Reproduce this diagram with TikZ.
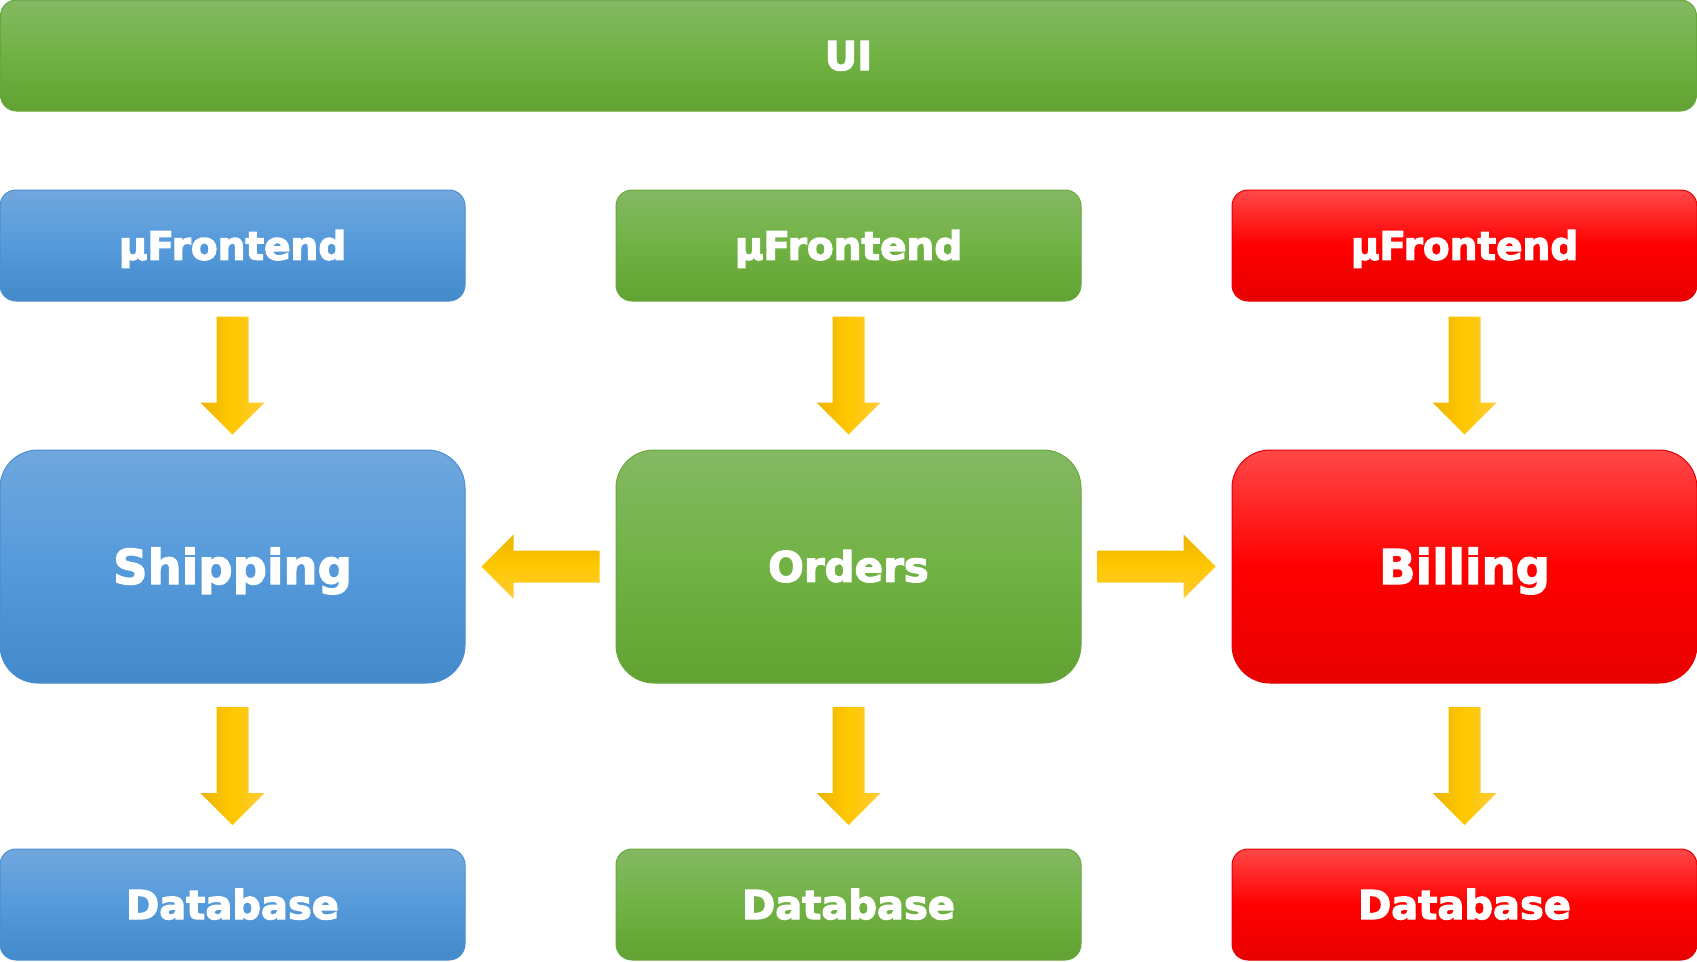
\documentclass[tikz,border=0pt]{standalone}
\usepackage{fontspec}
\setmainfont{DejaVu Sans}
\usetikzlibrary{calc}
\definecolor{gT}{HTML}{84B964}\definecolor{gM}{HTML}{71B244}\definecolor{gB}{HTML}{62A232}\definecolor{gD}{HTML}{68A83C}
\definecolor{bT}{HTML}{70A7DD}\definecolor{bM}{HTML}{559ADB}\definecolor{bB}{HTML}{438ACA}\definecolor{bD}{HTML}{4A8ED2}
\definecolor{rT}{HTML}{FF4848}\definecolor{rM}{HTML}{FF0000}\definecolor{rB}{HTML}{E80000}\definecolor{rD}{HTML}{E40000}
\definecolor{yD}{HTML}{EDB300}\definecolor{yM}{HTML}{FFC800}\definecolor{yL}{HTML}{FFCA38}
\newcommand\heavy[1]{\special{pdf:literal direct 2 Tr 1.2 w 1 1 1 RG}#1\special{pdf:literal direct 0 Tr}}
\newcommand\blockarrow[3]{%
  \coordinate (ba-m) at ($(#2)!0.5!(#3)$);
  \coordinate (ba-s) at ($(ba-m)!59pt!(#2)$);
  \coordinate (ba-e) at ($(ba-m)!59pt!(#3)$);
  \coordinate (ba-h) at ($(ba-e)!32pt!(ba-s)$);
  \path[#1] ($(ba-s)!16pt!90:(ba-e)$) -- ($(ba-h)!16pt!-90:(ba-s)$) -- ($(ba-h)!32pt!-90:(ba-s)$) -- (ba-e) -- ($(ba-h)!32pt!90:(ba-s)$) -- ($(ba-h)!16pt!90:(ba-s)$) -- ($(ba-s)!16pt!-90:(ba-e)$) -- cycle;
}
\tikzset{
  box/.style={rounded corners=16pt, text=white, inner sep=0pt, line width=1pt,
    minimum width=465pt, minimum height=111pt, text depth=0pt},
  small/.style={box, font=\fontsize{39}{44}\bfseries, text height=28.4pt},
  dbf/.style={box, font=\fontsize{40}{44}\bfseries, text height=29.2pt},
  big/.style={box, rounded corners=38pt, minimum height=233pt, font=\fontsize{48}{52}\bfseries, text height=35pt},
  gbox/.style={draw=gD, top color=gT, bottom color=gB, middle color=gM},
  bbox/.style={draw=bD, top color=bT, bottom color=bB, middle color=bM},
  rbox/.style={draw=rD, top color=rT, bottom color=rB, middle color=rM},
  varrow/.style={left color=yD, right color=yL, middle color=yM},
  harrow/.style={top color=yD, bottom color=yL, middle color=yM},
}
\begin{document}
\begin{tikzpicture}[x=1pt,y=-1pt]
\useasboundingbox (0,0) rectangle (1697,961);
\node[box, gbox, minimum width=1696pt, font=\fontsize{40}{44}\bfseries, text height=29.2pt] (ui) at (848.5,55.5) {\heavy{UI}};
\node[small, bbox] (sfe) at (232.5,245.5) {\heavy{µFrontend}};
\node[small, gbox] (ofe) at (848.5,245.5) {\heavy{µFrontend}};
\node[small, rbox] (bfe) at (1464.5,245.5) {\heavy{µFrontend}};
\node[big, bbox] (ship) at (232.5,566.5) {\heavy{Shipping}};
\node[big, gbox, font=\fontsize{42}{46}\bfseries, text height=30.6pt] (ord) at (848.5,566.5) {\heavy{Orders}};
\node[big, rbox] (bill) at (1464.5,566.5) {\heavy{Billing}};
\node[dbf, bbox] (sdb) at (232.5,904.5) {\heavy{Database}};
\node[dbf, gbox] (odb) at (848.5,904.5) {\heavy{Database}};
\node[dbf, rbox] (bdb) at (1464.5,904.5) {\heavy{Database}};
\blockarrow{varrow}{sfe.south}{ship.north}
\blockarrow{varrow}{ofe.south}{ord.north}
\blockarrow{varrow}{bfe.south}{bill.north}
\blockarrow{varrow}{ship.south}{sdb.north}
\blockarrow{varrow}{ord.south}{odb.north}
\blockarrow{varrow}{bill.south}{bdb.north}
\blockarrow{harrow}{ord.west}{ship.east}
\blockarrow{harrow}{ord.east}{bill.west}
\end{tikzpicture}
\end{document}
